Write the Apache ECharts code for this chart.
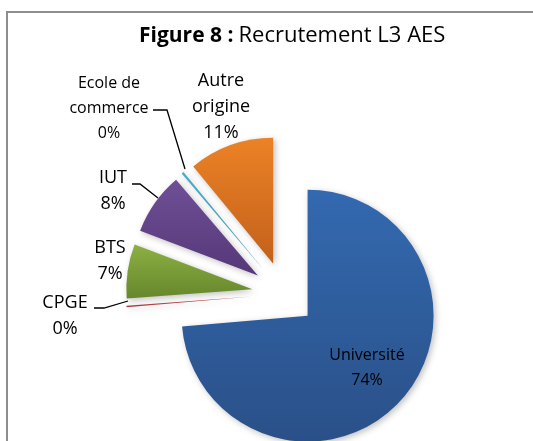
<!DOCTYPE html>
<html>
<head>
<meta charset="utf-8">
<script src="https://cdn.jsdelivr.net/npm/echarts@6/dist/echarts.min.js"></script>
<style>
  html, body { margin: 0; padding: 0; background: #fff; }
  #chart { width: 533px; height: 441px; }
</style>
</head>
<body>
<div id="chart"></div>
<script>
var categories = ['Université', 'CPGE', 'BTS', 'IUT', 'Ecole de\ncommerce', 'Autre\norigine'];
var values = [74, 0.2, 7, 8, 0.3, 11];
var colorsTop = ['#3369B0', '#C0504D', '#8CB043', '#6F4F96', '#4BACC6', '#EC8226'];
var colorsBottom = ['#2A5088', '#A8403D', '#66872C', '#553878', '#3A95AE', '#C3611B'];

// where each label sits, and its leader line (none = no line)
var labelPos = [
    { x: 367, y: 368, size: 16 },
    { x: 65, y: 316, size: 18, line: [[94, 308], [104, 308], [128, 301]] },
    { x: 110, y: 261, size: 18 },
    { x: 113, y: 191, size: 18, line: [[132, 184], [140, 184], [158, 198]] },
    { x: 109, y: 108, size: 16, line: [[153, 110], [167, 110], [185, 169]] },
    { x: 221, y: 107, size: 18 }
];

var chart = echarts.init(document.getElementById('chart'));

var sliceData = categories.map(function (name, i) {
    return {
        name: name,
        value: values[i],
        selected: true,
        itemStyle: {
            color: new echarts.graphic.LinearGradient(0, 0, 0, 1, [
                { offset: 0, color: colorsTop[i] },
                { offset: 1, color: colorsBottom[i] }
            ])
        }
    };
});

// same values, invisible slices, only used to carry the labels (not shifted by the explode)
var labelData = categories.map(function (name, i) {
    return {
        name: name,
        value: values[i],
        label: {
            fontSize: labelPos[i].size,
            lineHeight: labelPos[i].size === 16 ? 25 : 26
        },
        labelLine: { show: !!labelPos[i].line }
    };
});

var option = {
    backgroundColor: '#ffffff',
    animation: false,
    title: {
        text: '{b|Figure 8 :} {n|Recrutement L3 AES}',
        left: 134,
        top: 20,
        textStyle: {
            rich: {
                b: { fontFamily: 'Open Sans', fontWeight: 'bold', fontSize: 21, color: '#000' },
                n: { fontFamily: 'Open Sans', fontWeight: 'normal', fontSize: 22, color: '#000' }
            }
        }
    },
    graphic: [{
        type: 'rect',
        shape: { x: 7, y: 12, width: 600, height: 500 },
        style: { fill: 'none', stroke: '#8e8e8e', lineWidth: 2 },
        silent: true
    }],
    series: [{
        type: 'pie',
        center: [284, 294],
        radius: 126,
        startAngle: 90,
        clockwise: true,
        selectedMode: 'multiple',
        selectedOffset: 32,
        itemStyle: {
            shadowBlur: 6,
            shadowOffsetX: 2,
            shadowOffsetY: 2,
            shadowColor: 'rgba(0,0,0,0.25)'
        },
        label: { show: false },
        labelLine: { show: false },
        emphasis: { disabled: true },
        data: sliceData
    }, {
        type: 'pie',
        center: [284, 294],
        radius: 126,
        startAngle: 90,
        clockwise: true,
        silent: true,
        z: 5,
        percentPrecision: 0,
        avoidLabelOverlap: false,
        itemStyle: { color: 'rgba(0,0,0,0)' },
        label: {
            show: true,
            formatter: '{b}\n{d}%',
            fontFamily: 'Open Sans',
            color: '#000'
        },
        labelLine: {
            show: true,
            lineStyle: { color: '#000', width: 1.3 }
        },
        labelLayout: function (params) {
            var p = labelPos[params.dataIndex];
            var res = { x: p.x, y: p.y, align: 'center', verticalAlign: 'middle' };
            if (p.line) res.labelLinePoints = p.line;
            return res;
        },
        emphasis: { disabled: true },
        data: labelData
    }]
};

chart.setOption(option);
</script>
</body>
</html>
